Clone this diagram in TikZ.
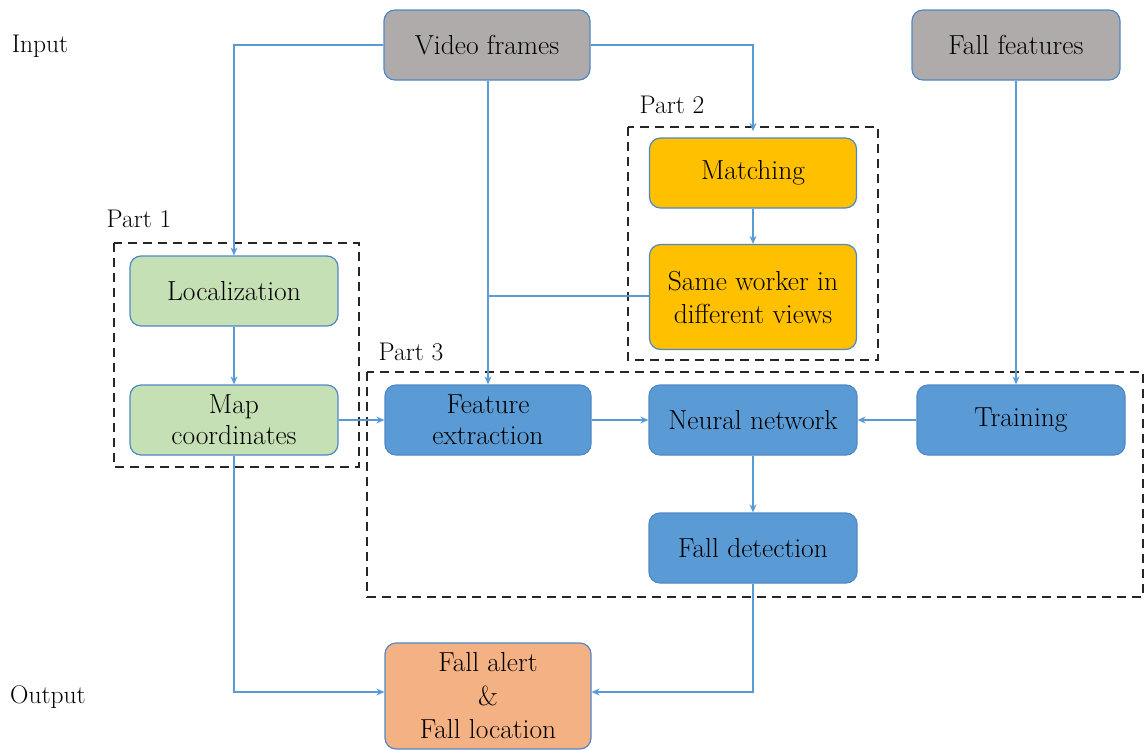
\documentclass[tikz,border=0pt]{standalone}
\usetikzlibrary{arrows.meta}
\definecolor{lineblue}{HTML}{5B9BD5}
\definecolor{edgeblue}{HTML}{4F88C6}
\definecolor{grayfill}{HTML}{AFABAB}
\definecolor{greenfill}{HTML}{C5E0B4}
\definecolor{goldfill}{HTML}{FFC000}
\definecolor{bluefill}{HTML}{5B9BD5}
\definecolor{orangefill}{HTML}{F4B183}
\begin{document}
\begin{tikzpicture}[x=1pt,y=-1pt,
  box/.style={draw=edgeblue,line width=1.2pt,rounded corners=11pt,minimum width=206pt,minimum height=70pt,align=center,font=\fontsize{27.5}{31}\selectfont,inner sep=2pt},
  graybox/.style={box,fill=grayfill},
  greenbox/.style={box,fill=greenfill},
  goldbox/.style={box,fill=goldfill},
  bluebox/.style={box,fill=bluefill},
  orangebox/.style={box,fill=orangefill},
  conn/.style={draw=lineblue,line width=1.6pt},
  arr/.style={conn,-{Stealth[length=8pt,width=7pt]}},
  partbox/.style={draw=black!85,line width=1.6pt,dash pattern=on 9pt off 6pt},
  lbl/.style={font=\fontsize{25.5}{30}\selectfont,inner sep=0pt}
]
\useasboundingbox (0,0) rectangle (1144,750);
% dashed part frames
\draw[partbox] (114,243) rectangle (359,467);
\draw[partbox] (628,127) rectangle (878,360);
\draw[partbox] (367,372) rectangle (1143,597);
% labels
\node[lbl] (in) at (40,46) {Input};
\node[lbl] (out) at (48,697) {Output};
\node[lbl] (p1) at (139,219) {Part 1};
\node[lbl] (p2) at (672,105) {Part 2};
\node[lbl] (p3) at (411,352) {Part 3};
% nodes
\node[graybox] (vf) at (487,45) {Video frames};
\node[graybox,minimum width=208pt] (ff) at (1016,45) {Fall features};
\node[goldbox,minimum width=207pt] (mt) at (753,173) {Matching};
\node[goldbox,minimum width=207pt,minimum height=105pt,font=\fontsize{27.5}{33}\selectfont] (sw) at (753,297) {Same worker in\\different views};
\node[greenbox,minimum width=208pt] (loc) at (234,291) {Localization};
\node[greenbox,minimum width=208pt] (map) at (234,420) {Map\\coordinates};
\node[bluebox] (fe) at (488,420) {Feature\\extraction};
\node[bluebox,minimum width=208pt] (nn) at (753,420) {Neural network};
\node[bluebox,minimum width=208pt] (tr) at (1021,420) {Training};
\node[bluebox,minimum width=208pt] (fd) at (753,548) {Fall detection};
\node[orangebox,minimum height=106pt,font=\fontsize{27.5}{33.5}\selectfont] (fa) at (488,696) {Fall alert\\\&\\Fall location};
% connectors
\coordinate (c1) at (234,45);
\coordinate (c2) at (753,45);
\coordinate (c3) at (487,296);
\coordinate (c4) at (234,692);
\coordinate (c5) at (753,692);
\draw[arr] (vf.west) -- (c1) -- (loc.north);
\draw[arr] (vf.east) -- (c2) -- (753,131);
\draw[arr] (vf.south -| fe.north) -- (fe.north);
\draw[conn] (sw.west |- c3) -- (c3);
\draw[arr] (mt) -- (sw);
\draw[arr] (ff.south) -- (ff.south |- tr.north);
\draw[arr] (loc) -- (map);
\draw[arr] (map) -- (fe);
\draw[arr] (fe) -- (nn);
\draw[arr] (tr) -- (nn);
\draw[arr] (nn) -- (fd);
\draw[arr] (fd.south) -- (c5) -- (fa.east |- c5);
\draw[arr] (map.south) -- (c4) -- (fa.west |- c4);
\end{tikzpicture}
\end{document}
